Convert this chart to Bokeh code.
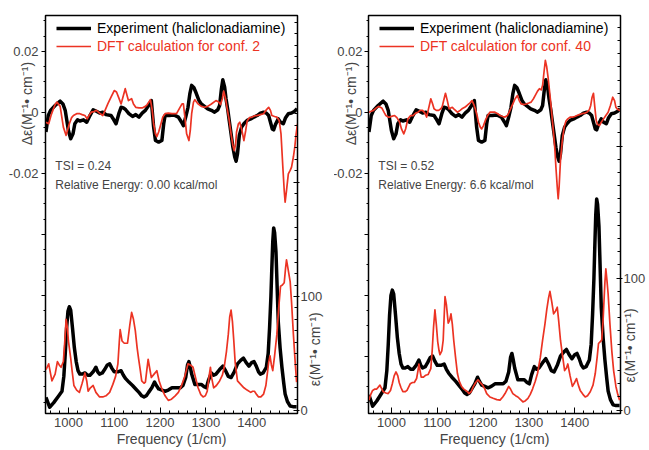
import math
from bokeh.plotting import figure
from bokeh.models import (Range1d, LinearAxis, FixedTicker, CustomJSTickFormatter,
                          Legend, LegendItem, Label)
from bokeh.layouts import row
from bokeh.embed import file_html
from bokeh.resources import INLINE

# ---------------- data ----------------
x_major = [1000, 1100, 1200, 1300, 1400]
x_minor = [960, 980, 1020, 1040, 1060, 1080, 1120, 1140, 1160, 1180, 1220, 1240, 1260, 1280,
           1320, 1340, 1360, 1380, 1420, 1440, 1460, 1480]
cd_major = [-0.08, -0.06, -0.04, -0.02, 0.0, 0.02]
cd_minor = [-0.095, -0.09, -0.085, -0.075, -0.07, -0.065, -0.055, -0.05, -0.045, -0.035, -0.03,
            -0.025, -0.015, -0.01, -0.005, 0.005, 0.01, 0.015, 0.025, 0.03]
ir_major = [0, 100, 200, 300]
ir_minor = [10, 20, 30, 40, 50, 60, 70, 80, 90, 110, 120, 130, 140, 150, 160, 170, 180, 190,
            210, 220, 230, 240, 250, 260, 270, 280, 290, 310, 320, 330, 340]

# Experiment (haliclonadiamine) - CD
exp_cd_f = [951, 956, 961, 971, 982, 988, 993, 1000, 1005, 1010, 1014, 1020, 1025, 1033, 1040, 1047,
            1054, 1061, 1068, 1075, 1082, 1093, 1099, 1104, 1110, 1115, 1120, 1125, 1132, 1140, 1147,
            1154, 1161, 1168, 1175, 1181, 1186, 1190, 1197, 1204, 1208, 1211, 1220, 1230, 1240, 1247,
            1251, 1256, 1261, 1265, 1269, 1274, 1279, 1285, 1290, 1297, 1304, 1312, 1319, 1326, 1330,
            1334, 1337, 1341, 1344, 1348, 1351, 1355, 1359, 1363, 1366, 1369, 1373, 1378, 1383, 1390,
            1398, 1405, 1412, 1419, 1426, 1432, 1437, 1441, 1445, 1448, 1452, 1458, 1463, 1469, 1474,
            1480, 1487, 1493, 1499]
exp_cd = [-0.0064, -0.0010, 0.0007, 0.0023, 0.0037, 0.0028, 0.0007, -0.0059, -0.0086, -0.0070,
          -0.0037, -0.0024, -0.0028, -0.0024, -0.0032, -0.0010, 0.0009, 0.0004, -0.0002, 0.0001,
          -0.0007, -0.0010, -0.0024, -0.0037, -0.0004, 0.0017, 0.0015, 0.0009, -0.0004, -0.0013,
          -0.0007, -0.0015, -0.0002, 0.0007, 0.0023, 0.0039, -0.0048, -0.0092, -0.0097, -0.0092,
          -0.0037, -0.0010, -0.0010, -0.0008, -0.0015, -0.0032, -0.0043, -0.0015, 0.0017, 0.0061,
          0.0089, 0.0081, 0.0063, 0.0039, 0.0028, 0.0020, 0.0012, 0.0007, 0.0001, 0.0009, 0.0023,
          0.0078, 0.0107, 0.0083, 0.0045, 0.0007, -0.0026, -0.0070, -0.0114, -0.0146, -0.0160,
          -0.0136, -0.0075, -0.0048, -0.0037, -0.0026, -0.0021, -0.0015, -0.0010, -0.0002, 0.0001,
          -0.0002, -0.0010, -0.0032, -0.0054, -0.0057, -0.0039, -0.0021, -0.0032, -0.0037, -0.0017,
          -0.0004, -0.0002, 0.0003, 0.0012]

# Experiment (haliclonadiamine) - IR
exp_ir_f = [951, 959, 968, 979, 986, 990, 993, 996, 999, 1002, 1005, 1009, 1013, 1017, 1021, 1025,
            1030, 1036, 1042, 1047, 1054, 1060, 1064, 1068, 1074, 1079, 1085, 1090, 1095, 1100, 1108,
            1115, 1120, 1125, 1132, 1140, 1147, 1154, 1160, 1165, 1170, 1175, 1182, 1188, 1192, 1197,
            1204, 1211, 1218, 1226, 1235, 1244, 1250, 1256, 1260, 1263, 1266, 1269, 1276, 1283, 1290,
            1296, 1301, 1306, 1312, 1317, 1322, 1330, 1337, 1343, 1349, 1355, 1362, 1369, 1376, 1382,
            1388, 1394, 1400, 1405, 1410, 1415, 1419, 1425, 1432, 1436, 1439, 1442, 1444, 1446, 1448,
            1450, 1453, 1455, 1458, 1462, 1466, 1470, 1473, 1478, 1484, 1490, 1498]
exp_ir = [11.6, 3, 7, 13, 17, 30, 49, 72, 87, 91, 88, 72, 55, 43, 35, 32, 32, 33, 31, 31, 34, 38,
          34, 32, 33, 36, 40, 41, 37, 34, 34, 35, 31, 28, 25, 22, 19, 16, 13, 12, 13, 16, 20, 25,
          22, 19, 18, 17, 18, 20, 20, 20, 22, 29, 40, 43, 38, 32, 23, 23, 23, 21, 20, 27, 33, 31,
          32, 36, 39, 35, 30, 29, 34, 41, 44, 46, 42, 39, 42, 43, 39, 34, 32, 33, 38, 50, 72, 100,
          125, 148, 160, 156, 139, 115, 78, 55, 38, 24, 14.5, 8, 4, 3.5, 3.5]

# DFT calculation for conf. 2
c2_cd_f = [951, 957, 962, 966, 971, 975, 982, 989, 995, 1002, 1007, 1011, 1018, 1025, 1030, 1036,
           1041, 1045, 1050, 1056, 1061, 1068, 1075, 1080, 1086, 1093, 1100, 1105, 1110, 1115, 1119,
           1124, 1128, 1131, 1138, 1142, 1147, 1154, 1161, 1168, 1172, 1179, 1183, 1186, 1190, 1193,
           1197, 1201, 1206, 1211, 1218, 1226, 1236, 1243, 1248, 1251, 1255, 1258, 1263, 1266, 1269,
           1273, 1276, 1283, 1290, 1297, 1304, 1312, 1322, 1328, 1332, 1336, 1339, 1343, 1346, 1351,
           1355, 1359, 1362, 1365, 1367, 1371, 1374, 1378, 1383, 1387, 1390, 1395, 1401, 1408, 1412,
           1419, 1426, 1431, 1437, 1441, 1444, 1450, 1455, 1460, 1464, 1468, 1471, 1473, 1476, 1480,
           1484, 1487, 1491, 1494, 1497, 1500]
c2_cd = [-0.0032, -0.0037, -0.0010, 0.0007, 0.0026, 0.0034, 0.0020, -0.0048, -0.0075, -0.0037,
         -0.0017, -0.0010, -0.0004, -0.0004, -0.0007, -0.0010, -0.0021, -0.0010, 0.0001, 0.0003,
         0.0007, -0.0002, -0.0010, 0.0007, 0.0028, 0.0050, 0.0072, 0.0067, 0.0048, 0.0028, 0.0050,
         0.0078, 0.0056, 0.0039, 0.0045, 0.0028, 0.0017, 0.0015, 0.0015, 0.0020, 0.0026, 0.0042,
         0.0007, -0.0037, -0.0070, -0.0079, -0.0064, -0.0043, -0.0015, -0.0004, -0.0002, -0.0004,
         -0.0004, 0.0015, 0.0028, 0.0028, -0.0026, -0.0070, -0.0092, -0.0059, -0.0004, 0.0034,
         0.0042, 0.0028, 0.0020, 0.0017, 0.0020, 0.0028, 0.0039, 0.0034, 0.0026, 0.0045, 0.0070,
         0.0045, 0.0017, -0.0026, -0.0070, -0.0108, -0.0125, -0.0103, -0.0064, -0.0037, -0.0032,
         -0.0054, -0.0092, -0.0059, -0.0028, -0.0017, -0.0015, -0.0010, -0.0010, -0.0007, -0.0004,
         0.0007, 0.0017, 0.0007, -0.0010, -0.0013, -0.0015, -0.0026, -0.0070, -0.0179, -0.0256,
         -0.0294, -0.0256, -0.0201, -0.0190, -0.0179, -0.0146, -0.0114, -0.0070, -0.0037]

c2_ir_f = [951, 957, 964, 971, 976, 980, 984, 989, 992, 995, 998, 1000, 1005, 1008, 1012, 1018,
           1024, 1030, 1036, 1040, 1043, 1048, 1054, 1060, 1068, 1075, 1082, 1090, 1097, 1103, 1108,
           1111, 1113, 1117, 1122, 1129, 1134, 1138, 1142, 1146, 1150, 1153, 1157, 1160, 1165, 1168,
           1171, 1174, 1177, 1181, 1187, 1193, 1198, 1204, 1211, 1218, 1225, 1233, 1240, 1247, 1254,
           1261, 1266, 1272, 1278, 1283, 1289, 1294, 1299, 1303, 1307, 1310, 1313, 1317, 1323, 1330,
           1336, 1340, 1345, 1349, 1352, 1355, 1358, 1361, 1364, 1369, 1376, 1383, 1390, 1398, 1402,
           1406, 1411, 1415, 1420, 1426, 1431, 1434, 1437, 1440, 1443, 1446, 1450, 1455, 1459, 1463,
           1467, 1471, 1474, 1476, 1479, 1484, 1487, 1491, 1495, 1498]
c2_ir = [36, 41, 26, 32, 43, 40, 38, 43, 60, 80, 72, 61, 46, 35, 22, 18, 16, 24, 33, 26, 17, 20,
         22, 16, 12, 12, 13, 16, 23, 30, 41, 60, 71, 61, 59, 59, 75, 86, 80, 70, 55, 46, 35, 26,
         24, 25, 35, 45, 38, 29, 32, 35, 26, 19, 13, 9, 10, 13, 16, 22, 30, 41, 40, 38, 28, 20,
         14, 12, 13, 17, 30, 38, 28, 20, 22, 26, 31, 38, 52, 67, 82, 88, 78, 61, 42, 26, 23, 20,
         18, 16, 17, 17, 14, 12, 12, 14.5, 22, 32, 42, 48, 40, 35, 48, 67, 90, 109, 110, 112, 125,
         132, 125, 113, 95, 67, 42, 25]

# DFT calculation for conf. 40
c40_cd_f = [951, 956, 961, 967, 972, 979, 985, 988, 993, 997, 1002, 1007, 1012, 1018, 1022, 1027,
            1031, 1036, 1042, 1047, 1053, 1058, 1063, 1068, 1073, 1077, 1081, 1086, 1090, 1093, 1098,
            1103, 1108, 1111, 1115, 1118, 1122, 1126, 1133, 1138, 1144, 1150, 1154, 1160, 1165, 1171,
            1176, 1180, 1183, 1187, 1190, 1194, 1197, 1201, 1205, 1210, 1215, 1226, 1232, 1237, 1243,
            1248, 1253, 1257, 1261, 1265, 1270, 1275, 1279, 1283, 1290, 1294, 1300, 1305, 1310, 1314,
            1319, 1323, 1327, 1330, 1333, 1336, 1339, 1342, 1345, 1348, 1351, 1354, 1357, 1359, 1362,
            1364, 1366, 1369, 1373, 1377, 1381, 1385, 1390, 1395, 1400, 1405, 1410, 1416, 1422, 1427,
            1432, 1435, 1438, 1441, 1444, 1447, 1450, 1454, 1458, 1463, 1468, 1473, 1478, 1483, 1487,
            1490, 1495, 1500]
c40_cd = [0.0001, 0.0004, 0.0007, 0.0015, 0.0020, 0.0015, -0.0002, -0.0010, -0.0015, -0.0015,
          -0.0012, -0.0010, -0.0017, -0.0032, -0.0054, -0.0070, -0.0054, -0.0021, -0.0010, -0.0010,
          -0.0002, 0.0001, 0.0007, 0.0007, -0.0002, -0.0015, 0.0012, 0.0045, 0.0028, 0.0012, 0.0007,
          0.0007, 0.0012, 0.0020, 0.0045, 0.0063, 0.0039, 0.0012, 0.0017, 0.0009, 0.0001, 0.0007,
          0.0012, 0.0017, 0.0023, 0.0031, 0.0039, 0.0026, 0.0012, -0.0010, -0.0032, -0.0048,
          -0.0054, -0.0043, -0.0026, -0.0010, 0.0001, 0.0001, -0.0004, -0.0010, -0.0013, -0.0015,
          -0.0010, 0.0001, 0.0015, 0.0028, 0.0045, 0.0056, 0.0039, 0.0028, 0.0026, 0.0028, 0.0031,
          0.0034, 0.0045, 0.0056, 0.0070, 0.0078, 0.0074, 0.0089, 0.0132, 0.0171, 0.0149, 0.0114,
          0.0072, 0.0028, -0.0021, -0.0070, -0.0125, -0.0179, -0.0245, -0.0283, -0.0245, -0.0157,
          -0.0092, -0.0048, -0.0028, -0.0021, -0.0015, -0.0015, -0.0013, -0.0010, -0.0007, -0.0004,
          -0.0002, 0.0001, 0.0009, 0.0023, 0.0050, 0.0063, 0.0017, -0.0026, -0.0039, -0.0043,
          -0.0032, -0.0021, -0.0010, 0.0001, 0.0023, 0.0050, 0.0039, 0.0017, 0.0009, 0.0007]

c40_ir_f = [951, 955, 959, 964, 968, 975, 982, 988, 993, 998, 1002, 1006, 1010, 1014, 1017, 1021,
            1025, 1030, 1034, 1041, 1046, 1050, 1055, 1058, 1060, 1062, 1065, 1070, 1075, 1080, 1086,
            1089, 1092, 1095, 1098, 1101, 1104, 1106, 1110, 1113, 1115, 1117, 1120, 1124, 1127, 1130,
            1133, 1136, 1140, 1144, 1148, 1153, 1158, 1162, 1166, 1169, 1174, 1179, 1184, 1189, 1194,
            1199, 1204, 1208, 1215, 1222, 1230, 1237, 1243, 1248, 1253, 1256, 1260, 1265, 1271, 1276,
            1282, 1287, 1292, 1298, 1303, 1308, 1314, 1319, 1325, 1330, 1335, 1339, 1343, 1346, 1350,
            1354, 1358, 1362, 1365, 1369, 1374, 1378, 1382, 1385, 1390, 1395, 1400, 1404, 1408, 1412,
            1418, 1423, 1428, 1434, 1440, 1445, 1449, 1452, 1456, 1459, 1462, 1464, 1466, 1468, 1470,
            1473, 1477, 1481, 1485, 1490, 1494, 1498]
c40_ir = [7.6, 12, 15, 16, 16, 19, 14, 13, 12.6, 15, 20, 26, 29, 26, 21, 17, 14, 14, 15, 20, 21,
          21, 24, 30, 35, 31, 25, 25, 26.5, 27, 31.5, 45, 63, 76, 65, 52, 45, 42, 45, 53, 70, 86,
          80, 66, 68, 73, 65, 53, 40, 28, 22, 18, 16, 15, 14, 12.6, 14, 18, 21, 23, 21, 19, 16,
          12.6, 10, 9, 8, 7.6, 10, 12.6, 16, 18, 16, 12.6, 11, 10, 8, 6.3, 7, 9, 12, 16, 22, 28,
          40, 53, 65, 76, 85, 90, 82, 73, 75, 78, 68, 53, 40, 30, 32, 35, 26, 18, 21, 24, 19, 15,
          12, 10, 11, 14, 19, 28, 40, 50.5, 52, 53, 68, 83, 97, 107, 100, 88, 65, 45, 30, 18, 12,
          7.6]

exp_label = "Experiment (haliclonadiamine)"
calc_labels = ["DFT calculation for conf. 2", "DFT calculation for conf. 40"]
tsi_labels = ["TSI = 0.24", "TSI = 0.52"]
energy_labels = ["Relative Energy: 0.00 kcal/mol", "Relative Energy: 6.6 kcal/mol"]
cd_title = "Δε(M⁻¹• cm⁻¹)"
ir_title = "ε(M⁻¹• cm⁻¹)"
x_title = "Frequency (1/cm)"

# ---------------- styling ----------------
FONT = "Liberation Sans"
RED = "#ec3323"
BLACK = "#000000"
NBSP = "\u00a0"


def make_panel(width, border_left, border_right, ir_top, calc_cd_f, calc_cd, calc_ir_f, calc_ir,
               calc_label, tsi, energy, cd_label_standoff, ir_pad, ir_standoff):
    p = figure(width=width, height=450, output_backend="svg", toolbar_location=None,
               x_range=Range1d(950, 1500), y_range=Range1d(-0.0987, 0.0318),
               min_border_left=border_left, min_border_right=border_right,
               min_border_top=15, min_border_bottom=37)
    p.extra_y_ranges = {"ir": Range1d(-2.5, ir_top)}
    p.grid.visible = False
    p.outline_line_color = "black"
    p.outline_line_width = 1.5
    p.outline_line_alpha = 1.0
    p.background_fill_color = "white"
    p.border_fill_color = "white"

    # bottom axis
    xa = p.xaxis[0]
    xa.ticker = FixedTicker(ticks=x_major, minor_ticks=x_minor)
    xa.axis_label = x_title
    xa.axis_label_text_font = FONT
    xa.axis_label_text_font_size = "14px"
    xa.axis_label_text_font_style = "normal"
    xa.axis_label_standoff = 1
    xa.major_label_text_font = FONT
    xa.major_label_text_font_size = "13px"
    xa.major_label_standoff = 4
    xa.major_tick_in = 6
    xa.major_tick_out = 0
    xa.minor_tick_in = 3
    xa.minor_tick_out = 0

    # left axis (CD)
    ya = p.yaxis[0]
    ya.ticker = FixedTicker(ticks=cd_major, minor_ticks=cd_minor)
    ya.formatter = CustomJSTickFormatter(code="""
        if (Math.abs(tick) < 1e-9) { return "0"; }
        if (tick > -0.03) { return tick.toFixed(2); }
        return "";
    """)
    ya.major_label_text_font = FONT
    ya.major_label_text_font_size = "13px"
    ya.major_label_standoff = cd_label_standoff
    ya.major_tick_out = 4
    ya.major_tick_in = 0
    ya.minor_tick_out = 2
    ya.minor_tick_in = 0
    ya.axis_label = NBSP * 57 + cd_title
    ya.axis_label_text_font = FONT
    ya.axis_label_text_font_size = "14px"
    ya.axis_label_text_font_style = "normal"
    ya.axis_label_standoff = -29

    # right axis (IR)
    ra = LinearAxis(y_range_name="ir",
                    ticker=FixedTicker(ticks=ir_major, minor_ticks=ir_minor),
                    formatter=CustomJSTickFormatter(code="""
                        return tick <= 100.5 ? tick.toFixed(0) : "";
                    """))
    ra.major_label_text_font = FONT
    ra.major_label_text_font_size = "13px"
    ra.major_label_standoff = 1
    ra.major_tick_out = 2
    ra.major_tick_in = 4
    ra.minor_tick_out = 0
    ra.minor_tick_in = 3
    ra.axis_label = NBSP * ir_pad + ir_title
    ra.axis_label_orientation = math.pi / 2
    ra.axis_label_align = "start"
    ra.axis_label_text_font = FONT
    ra.axis_label_text_font_size = "14px"
    ra.axis_label_text_font_style = "normal"
    ra.axis_label_standoff = ir_standoff
    p.add_layout(ra, "right")

    # curves
    p.line(exp_ir_f, exp_ir, y_range_name="ir", line_color=BLACK, line_width=3.5,
           line_join="round")
    p.line(calc_ir_f, calc_ir, y_range_name="ir", line_color=RED, line_width=1.7,
           line_join="round")
    exp_cd_r = p.line(exp_cd_f, exp_cd, line_color=BLACK, line_width=3.5, line_join="round")
    calc_cd_r = p.line(calc_cd_f, calc_cd, line_color=RED, line_width=1.7, line_join="round")

    # legends (one per colour, so the text colour matches the line)
    for item_label, rend, col, vy in [(exp_label, exp_cd_r, BLACK, 376),
                                      (calc_label, calc_cd_r, RED, 358)]:
        lg = Legend(items=[LegendItem(label=item_label, renderers=[rend])],
                    location=(11, vy), orientation="vertical",
                    background_fill_alpha=0, border_line_alpha=0,
                    padding=0, margin=0, spacing=0,
                    glyph_width=35, glyph_height=18, label_height=18,
                    label_standoff=6, label_text_font=FONT, label_text_font_size="14px",
                    label_text_color=col)
        p.add_layout(lg)

    # annotations
    for txt, yv in [(tsi, -0.0174), (energy, -0.0239)]:
        p.add_layout(Label(x=971.5, y=yv, text=txt, text_font=FONT, text_font_size="12px",
                           text_baseline="middle", text_align="left"))
    return p


left = make_panel(334, 45, 33, 346, c2_cd_f, c2_cd, c2_ir_f, c2_ir, calc_labels[0],
                  tsi_labels[0], energy_labels[0], 3, 7, -10)
right = make_panel(315, 34, 25, 299, c40_cd_f, c40_cd, c40_ir_f, c40_ir, calc_labels[1],
                   tsi_labels[1], energy_labels[1], 2, 8, -18)

layout = row(left, right, spacing=0)
open("out.html", "w").write(file_html(layout, INLINE))
